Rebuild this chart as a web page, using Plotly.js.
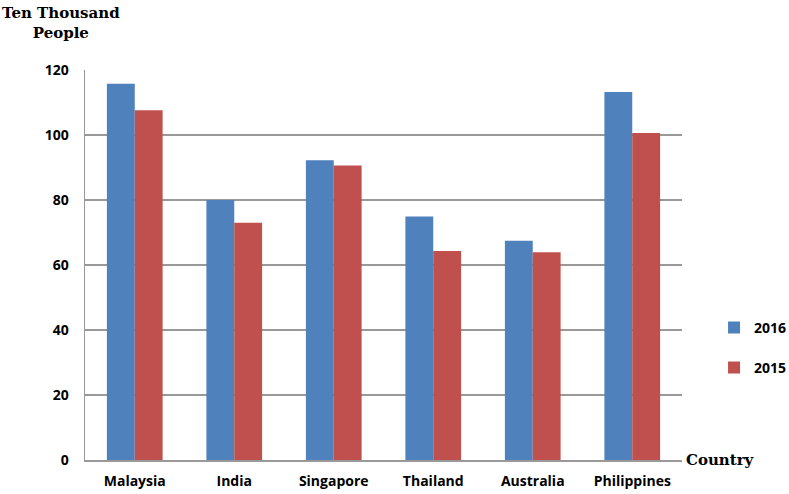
<!DOCTYPE html>
<html>
<head>
<meta charset="utf-8">
<script src="https://cdn.plot.ly/plotly-3.0.1.min.js"></script>
<style>
  body { margin: 0; background: #fff; }
  #plot { width: 789px; height: 494px; }
</style>
</head>
<body>
<div id="plot"></div>
<script>
// Values (ten thousand people)
const countries = ['Malaysia', 'India', 'Singapore', 'Thailand', 'Australia', 'Philippines'];
const values2016 = [115.8, 80.0, 92.2, 74.9, 67.5, 113.2];
const values2015 = [107.6, 73.0, 90.6, 64.3, 63.9, 100.6];
const yTicks = [0, 20, 40, 60, 80, 100, 120];

const tickFont = { family: 'Open Sans, Lato, sans-serif', size: 14, color: '#000', weight: 'bold' };
const serifFont = { family: 'DejaVu Serif, Liberation Serif, serif', size: 15, color: '#000', weight: 'bold' };

const trace2016 = {
    x: countries,
    y: values2016,
    name: '2016',
    type: 'bar',
    legendgroup: 'a',
    marker: { color: '#4F81BD' }
};

const trace2015 = {
    x: countries,
    y: values2015,
    name: '2015',
    type: 'bar',
    legendgroup: 'b',
    marker: { color: '#C0504D' }
};

const layout = {
    width: 789,
    height: 494,
    margin: { l: 85, r: 107, t: 70, b: 34, autoexpand: false },
    paper_bgcolor: '#fff',
    plot_bgcolor: '#fff',
    barmode: 'group',
    bargap: 0.44,
    bargroupgap: 0,
    showlegend: true,
    legend: {
        xref: 'container', yref: 'container',
        x: 0.905, y: 0.296, xanchor: 'left', yanchor: 'middle',
        font: tickFont,
        tracegroupgap: 19,
        itemwidth: 30
    },
    xaxis: {
        showline: true,
        linecolor: '#999',
        linewidth: 1.5,
        tickfont: tickFont,
        ticks: '',
        ticklabelstandoff: 8,
        fixedrange: true
    },
    yaxis: {
        range: [0, 120],
        tickvals: yTicks,
        showgrid: true,
        gridcolor: '#999',
        gridwidth: 1.2,
        showline: true,
        linecolor: '#999',
        linewidth: 1.5,
        zeroline: false,
        tickfont: tickFont,
        ticks: '',
        ticklabelstandoff: 12,
        fixedrange: true
    },
    annotations: [
        {
            text: 'Ten Thousand<br>People',
            xref: 'paper', yref: 'paper',
            x: -0.04, y: 1.0, yshift: 68,
            xanchor: 'center', yanchor: 'top',
            showarrow: false,
            align: 'center',
            font: serifFont
        },
        {
            text: 'Country',
            xref: 'paper', yref: 'paper',
            x: 1.0, y: 0, xshift: 2,
            xanchor: 'left', yanchor: 'middle',
            showarrow: false,
            font: { family: serifFont.family, size: 15, color: '#000', weight: 'bold' }
        }
    ]
};

Plotly.newPlot('plot', [trace2016, trace2015], layout, { displayModeBar: false, staticPlot: true });
</script>
</body>
</html>
